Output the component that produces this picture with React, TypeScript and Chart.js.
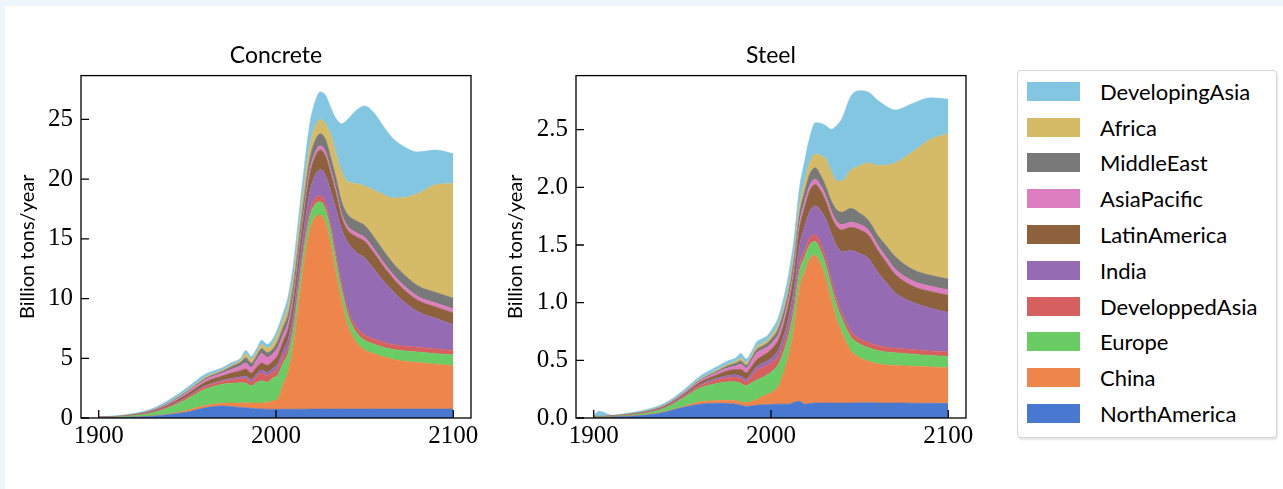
import React, { useEffect, useRef } from "react";
import { Chart, registerables } from "chart.js";

Chart.register(...registerables);

// ---------- data ----------
const YEARS = [
  1900, 1903, 1910, 1920, 1930, 1940, 1950, 1960, 1970, 1975,
  1980, 1983, 1986, 1989, 1992, 1995, 1998, 2001, 2004, 2007,
  2010, 2013, 2016, 2019, 2022, 2025, 2028, 2031, 2034, 2037,
  2040, 2045, 2050, 2055, 2060, 2065, 2070, 2080, 2090, 2100,
];

const REGIONS = [
  "NorthAmerica", "China", "Europe", "DeveloppedAsia", "India",
  "LatinAmerica", "AsiaPacific", "MiddleEast", "Africa", "DevelopingAsia",
];
const COLORS = [
  "#4878d0", "#ee854a", "#6acc64", "#d65f5f", "#956cb4",
  "#8c613c", "#dc7ec0", "#797979", "#d5bb67", "#82c6e2",
];

const X_TICKS = [1900, 2000, 2100];
const CONCRETE_Y_TICKS = [0, 5, 10, 15, 20, 25];
const STEEL_Y_TICKS = [0, 0.5, 1.0, 1.5, 2.0, 2.5];

// Concrete (billion tons / year)
const C_NORTH_AMERICA = [
  0.02, 0.03, 0.04, 0.08, 0.15, 0.3, 0.5, 0.85, 1.0, 0.95,
  0.88, 0.85, 0.8, 0.78, 0.76, 0.74, 0.73, 0.73, 0.73, 0.73,
  0.74, 0.74, 0.74, 0.75, 0.75, 0.75, 0.75, 0.75, 0.75, 0.75,
  0.75, 0.75, 0.75, 0.75, 0.75, 0.75, 0.75, 0.75, 0.75, 0.75,
];
const C_CHINA = [
  0, 0, 0, 0.01, 0.02, 0.05, 0.15, 0.2, 0.23, 0.3,
  0.38, 0.42, 0.45, 0.48, 0.5, 0.55, 0.7, 0.87, 2.05, 3.25,
  5.55, 9.05, 12.45, 14.95, 16.05, 16.25, 15.55, 13.75, 11.25, 9.05,
  7.25, 5.65, 4.95, 4.65, 4.4, 4.2, 4.05, 3.9, 3.75, 3.65,
];
const C_EUROPE = [
  0.03, 0.035, 0.05, 0.12, 0.25, 0.55, 0.95, 1.35, 1.6, 1.65,
  1.7, 1.65, 1.45, 1.7, 1.85, 1.7, 1.9, 2.0, 1.8, 1.5,
  1.3, 1.2, 1.1, 1.1, 1.1, 1.1, 1.1, 1.05, 1.0, 0.95,
  0.9, 0.85, 0.8, 0.8, 0.8, 0.82, 0.85, 0.88, 0.89, 0.89,
];
const C_DEVELOPPED_ASIA = [
  0.005, 0.005, 0.01, 0.02, 0.05, 0.1, 0.15, 0.22, 0.25, 0.3,
  0.35, 0.4, 0.3, 0.5, 0.65, 0.55, 0.5, 0.55, 0.55, 0.5,
  0.5, 0.5, 0.5, 0.5, 0.5, 0.5, 0.5, 0.5, 0.5, 0.5,
  0.45, 0.45, 0.45, 0.42, 0.42, 0.4, 0.4, 0.4, 0.38, 0.37,
];
const C_INDIA = [
  0, 0, 0, 0.01, 0.02, 0.03, 0.05, 0.07, 0.1, 0.12,
  0.15, 0.18, 0.2, 0.22, 0.25, 0.28, 0.3, 0.4, 0.5, 0.7,
  0.9, 1.1, 1.3, 1.6, 1.9, 2.2, 2.4, 2.85, 3.9, 4.55,
  5.45, 6.2, 6.45, 5.9, 5.2, 4.6, 3.95, 2.97, 2.58, 2.14,
];
const C_LATIN_AMERICA = [
  0.01, 0.012, 0.015, 0.03, 0.07, 0.12, 0.2, 0.3, 0.35, 0.45,
  0.5, 0.6, 0.55, 0.55, 0.6, 0.6, 0.6, 0.7, 0.75, 0.85,
  1.0, 1.1, 1.2, 1.4, 1.55, 1.65, 1.6, 1.5, 1.3, 1.0,
  1.0, 1.3, 1.4, 1.35, 1.25, 1.1, 1.05, 0.95, 0.95, 1.0,
];
const C_ASIA_PACIFIC = [
  0.01, 0.01, 0.01, 0.02, 0.05, 0.1, 0.15, 0.2, 0.25, 0.3,
  0.4, 0.5, 0.45, 0.6, 0.8, 0.65, 0.6, 0.65, 0.6, 0.55,
  0.5, 0.45, 0.4, 0.4, 0.35, 0.35, 0.35, 0.33, 0.33, 0.33,
  0.33, 0.33, 0.33, 0.33, 0.33, 0.33, 0.33, 0.33, 0.33, 0.33,
];
const C_MIDDLE_EAST = [
  0.005, 0.005, 0.005, 0.01, 0.02, 0.05, 0.08, 0.12, 0.15, 0.25,
  0.3, 0.45, 0.4, 0.35, 0.4, 0.4, 0.4, 0.55, 0.6, 0.7,
  0.8, 0.85, 0.9, 0.95, 1.0, 1.0, 1.05, 1.0, 1.0, 1.0,
  1.0, 1.0, 1.0, 1.0, 1.0, 0.95, 0.95, 0.9, 0.9, 0.9,
];
const C_AFRICA = [
  0.005, 0.005, 0.005, 0.01, 0.02, 0.05, 0.08, 0.1, 0.1, 0.12,
  0.15, 0.3, 0.3, 0.3, 0.35, 0.4, 0.45, 0.55, 0.6, 0.7,
  0.8, 0.9, 1.0, 1.1, 1.15, 1.2, 1.3, 1.9, 2.0, 2.5,
  2.7, 3.1, 3.3, 3.9, 4.6, 5.3, 6.1, 7.7, 9.0, 9.6,
];
const C_DEVELOPING_ASIA = [
  0.03, 0.035, 0.05, 0.08, 0.12, 0.2, 0.25, 0.25, 0.2, 0.2,
  0.2, 0.3, 0.25, 0.3, 0.35, 0.3, 0.4, 0.5, 0.6, 0.8,
  1.0, 1.2, 1.5, 1.8, 2.1, 2.3, 2.4, 2.3, 3.0, 4.0,
  5.1, 6.1, 6.7, 6.5, 5.8, 5.1, 4.5, 3.5, 2.9, 2.5,
];

// Steel (billion tons / year)
const S_NORTH_AMERICA = [
  0.005, 0.005, 0.008, 0.015, 0.025, 0.05, 0.09, 0.12, 0.127, 0.125,
  0.12, 0.11, 0.1, 0.105, 0.11, 0.115, 0.115, 0.12, 0.12, 0.12,
  0.12, 0.135, 0.145, 0.12, 0.125, 0.13, 0.13, 0.13, 0.13, 0.13,
  0.13, 0.13, 0.132, 0.132, 0.13, 0.13, 0.13, 0.128, 0.127, 0.125,
];
const S_CHINA = [
  0.002, 0.002, 0.002, 0.003, 0.004, 0.005, 0.008, 0.02, 0.025, 0.028,
  0.03, 0.03, 0.03, 0.04, 0.05, 0.07, 0.09, 0.11, 0.15, 0.27,
  0.43, 0.65, 0.98, 1.15, 1.26, 1.28, 1.2, 1.07, 0.89, 0.73,
  0.61, 0.455, 0.39, 0.36, 0.34, 0.33, 0.325, 0.32, 0.315, 0.31,
];
const S_EUROPE = [
  0.003, 0.003, 0.005, 0.008, 0.015, 0.03, 0.07, 0.12, 0.15, 0.16,
  0.165, 0.16, 0.15, 0.16, 0.17, 0.165, 0.17, 0.18, 0.19, 0.18,
  0.17, 0.155, 0.14, 0.13, 0.12, 0.12, 0.12, 0.12, 0.12, 0.12,
  0.12, 0.12, 0.12, 0.118, 0.115, 0.112, 0.11, 0.105, 0.1, 0.1,
];
const S_DEVELOPPED_ASIA = [
  0.001, 0.001, 0.001, 0.002, 0.003, 0.005, 0.01, 0.02, 0.03, 0.035,
  0.04, 0.04, 0.035, 0.06, 0.085, 0.09, 0.085, 0.08, 0.075, 0.07,
  0.07, 0.065, 0.06, 0.06, 0.06, 0.06, 0.06, 0.06, 0.058, 0.055,
  0.05, 0.048, 0.045, 0.044, 0.043, 0.042, 0.041, 0.04, 0.04, 0.04,
];
const S_INDIA = [
  0, 0, 0, 0.001, 0.002, 0.003, 0.005, 0.01, 0.015, 0.018,
  0.02, 0.02, 0.022, 0.025, 0.03, 0.032, 0.035, 0.04, 0.05, 0.065,
  0.09, 0.12, 0.16, 0.2, 0.23, 0.25, 0.29, 0.34, 0.4, 0.46,
  0.53, 0.7, 0.74, 0.73, 0.64, 0.56, 0.48, 0.41, 0.37, 0.34,
];
const S_LATIN_AMERICA = [
  0.001, 0.001, 0.001, 0.002, 0.005, 0.008, 0.012, 0.02, 0.03, 0.04,
  0.045, 0.06, 0.055, 0.055, 0.06, 0.065, 0.07, 0.08, 0.085, 0.095,
  0.11, 0.13, 0.15, 0.165, 0.18, 0.185, 0.17, 0.155, 0.15, 0.165,
  0.19, 0.2, 0.205, 0.2, 0.19, 0.175, 0.16, 0.14, 0.145, 0.15,
];
const S_ASIA_PACIFIC = [
  0.001, 0.001, 0.001, 0.002, 0.003, 0.005, 0.008, 0.012, 0.02, 0.025,
  0.03, 0.045, 0.04, 0.05, 0.06, 0.055, 0.05, 0.05, 0.05, 0.05,
  0.05, 0.05, 0.05, 0.048, 0.045, 0.045, 0.045, 0.045, 0.045, 0.045,
  0.045, 0.045, 0.045, 0.045, 0.045, 0.045, 0.045, 0.045, 0.045, 0.045,
];
const S_MIDDLE_EAST = [
  0.001, 0.001, 0.001, 0.001, 0.002, 0.003, 0.005, 0.008, 0.012, 0.018,
  0.025, 0.03, 0.025, 0.025, 0.03, 0.03, 0.035, 0.04, 0.05, 0.06,
  0.06, 0.07, 0.08, 0.09, 0.1, 0.1, 0.09, 0.085, 0.09, 0.1,
  0.11, 0.12, 0.1, 0.085, 0.085, 0.1, 0.11, 0.1, 0.095, 0.095,
];
const S_AFRICA = [
  0.001, 0.001, 0.001, 0.002, 0.003, 0.004, 0.005, 0.008, 0.01, 0.012,
  0.015, 0.025, 0.02, 0.02, 0.025, 0.025, 0.025, 0.03, 0.035, 0.04,
  0.05, 0.06, 0.07, 0.085, 0.1, 0.12, 0.17, 0.24, 0.25, 0.25,
  0.27, 0.33, 0.41, 0.5, 0.6, 0.7, 0.81, 1.02, 1.18, 1.26,
];
const S_DEVELOPING_ASIA = [
  0.005, 0.045, 0.005, 0.008, 0.012, 0.015, 0.02, 0.025, 0.03, 0.03,
  0.03, 0.04, 0.035, 0.035, 0.04, 0.04, 0.04, 0.05, 0.06, 0.08,
  0.1, 0.12, 0.15, 0.18, 0.22, 0.27, 0.28, 0.29, 0.37, 0.48,
  0.54, 0.64, 0.65, 0.61, 0.57, 0.51, 0.46, 0.42, 0.36, 0.3,
];

const CONCRETE_SERIES = [
  C_NORTH_AMERICA, C_CHINA, C_EUROPE, C_DEVELOPPED_ASIA, C_INDIA,
  C_LATIN_AMERICA, C_ASIA_PACIFIC, C_MIDDLE_EAST, C_AFRICA, C_DEVELOPING_ASIA,
];
const STEEL_SERIES = [
  S_NORTH_AMERICA, S_CHINA, S_EUROPE, S_DEVELOPPED_ASIA, S_INDIA,
  S_LATIN_AMERICA, S_ASIA_PACIFIC, S_MIDDLE_EAST, S_AFRICA, S_DEVELOPING_ASIA,
];

// ---------- chart helpers ----------
const frameAndTicks = {
  id: "frameAndTicks",
  afterDatasetsDraw(chart: any) {
    const { ctx, chartArea: a, scales } = chart;
    ctx.save();
    ctx.strokeStyle = "#000";
    ctx.lineWidth = 1.3;
    ctx.beginPath();
    for (const t of scales.x.ticks) {
      const px = scales.x.getPixelForValue(t.value);
      ctx.moveTo(px, a.bottom);
      ctx.lineTo(px, a.bottom - 8);
    }
    for (const t of scales.y.ticks) {
      const py = scales.y.getPixelForValue(t.value);
      ctx.moveTo(a.left, py);
      ctx.lineTo(a.left + 8, py);
    }
    ctx.stroke();
    ctx.strokeRect(a.left, a.top, a.right - a.left, a.bottom - a.top);
    ctx.restore();
  },
};

function makeConfig(
  title: string,
  series: number[][],
  yMax: number,
  yTicks: number[],
  decimals: number,
  leftWidth: number,
  rightPad: number,
  yTitlePad: number
): any {
  return {
    type: "line",
    data: {
      datasets: series.map((vals, i) => ({
        label: REGIONS[i],
        data: YEARS.map((x, j) => ({ x, y: vals[j] })),
        backgroundColor: COLORS[i],
        borderColor: COLORS[i],
        borderWidth: 0.6,
        pointRadius: 0,
        pointHoverRadius: 0,
        fill: i === 0 ? "origin" : "-1",
        cubicInterpolationMode: "monotone",
      })),
    },
    options: {
      responsive: false,
      animation: false,
      events: [],
      layout: { padding: { left: 0, right: rightPad, top: 0, bottom: 0 } },
      plugins: {
        legend: { display: false },
        tooltip: { enabled: false },
        title: {
          display: true,
          text: title,
          fullSize: false,
          color: "#000",
          font: { family: "Lato", size: 23, weight: "normal" },
          padding: { top: 42, bottom: 6 },
        },
      },
      scales: {
        x: {
          type: "linear",
          min: 1890,
          max: 2110,
          grid: { display: false, drawTicks: false },
          border: { display: false },
          afterBuildTicks: (s: any) => {
            s.ticks = X_TICKS.map((v) => ({ value: v }));
          },
          afterFit: (s: any) => {
            s.height = 71;
          },
          ticks: {
            color: "#000",
            padding: 3,
            maxRotation: 0,
            autoSkip: false,
            font: { family: "Liberation Serif", size: 25 },
            callback: (v: any) => String(v),
          },
        },
        y: {
          type: "linear",
          stacked: true,
          min: 0,
          max: yMax,
          grid: { display: false, drawTicks: false },
          border: { display: false },
          afterBuildTicks: (s: any) => {
            s.ticks = yTicks.map((v) => ({ value: v }));
          },
          afterFit: (s: any) => {
            s.width = leftWidth;
          },
          ticks: {
            color: "#000",
            padding: 8,
            autoSkip: false,
            font: { family: "Liberation Serif", size: 25 },
            callback: (v: any) => Number(v).toFixed(decimals),
          },
          title: {
            display: true,
            text: "Billion tons/year",
            color: "#000",
            font: { family: "Lato", size: 20 },
            padding: { top: yTitlePad, bottom: 0 },
          },
        },
      },
    },
    plugins: [frameAndTicks],
  };
}

const LEGEND_ORDER = [9, 8, 7, 6, 5, 4, 3, 2, 1, 0];

export default function App() {
  const concreteRef = useRef<HTMLCanvasElement>(null);
  const steelRef = useRef<HTMLCanvasElement>(null);

  useEffect(() => {
    let charts: Chart[] = [];
    let cancelled = false;
    const build = () => {
      if (cancelled) return;
      if (concreteRef.current) {
        charts.push(
          new Chart(
            concreteRef.current,
            makeConfig("Concrete", CONCRETE_SERIES, 28.67, CONCRETE_Y_TICKS, 0, 81, 19, 15.5)
          )
        );
      }
      if (steelRef.current) {
        charts.push(
          new Chart(
            steelRef.current,
            makeConfig("Steel", STEEL_SERIES, 2.969, STEEL_Y_TICKS, 1, 86, 24, 14)
          )
        );
      }
    };
    const fonts: any = (document as any).fonts;
    if (fonts && fonts.load) {
      Promise.all([
        fonts.load("23px Lato"),
        fonts.load("25px 'Liberation Serif'"),
      ])
        .catch(() => {})
        .then(build);
    } else {
      build();
    }
    return () => {
      cancelled = true;
      charts.forEach((c) => c.destroy());
      charts = [];
    };
  }, []);

  return (
    <div
      style={{
        position: "fixed",
        left: 0,
        top: 0,
        width: 1283,
        height: 489,
        background: "#eef5fb",
        overflow: "hidden",
      }}
    >
      <div
        style={{
          position: "absolute",
          left: 5,
          top: 6,
          right: 0,
          bottom: 0,
          background: "#ffffff",
        }}
      />
      <canvas
        ref={concreteRef}
        width={490}
        height={489}
        style={{ position: "absolute", left: 0, top: 0 }}
      />
      <canvas
        ref={steelRef}
        width={500}
        height={489}
        style={{ position: "absolute", left: 490, top: 0 }}
      />
      <div
        style={{
          position: "absolute",
          left: 1017,
          top: 70,
          width: 260,
          height: 368,
          boxSizing: "border-box",
          border: "1px solid #d6d6d6",
          borderRadius: 4,
          background: "#fff",
          boxShadow: "1px 2px 2px rgba(0,0,0,0.10)",
        }}
      >
        {LEGEND_ORDER.map((idx, row) => (
          <div
            key={REGIONS[idx]}
            style={{
              position: "absolute",
              left: 9,
              top: 10.7 + row * 35.8,
              height: 19,
              display: "flex",
              alignItems: "center",
              whiteSpace: "nowrap",
            }}
          >
            <div style={{ width: 53, height: 19, background: COLORS[idx] }} />
            <span
              style={{
                marginLeft: 20,
                fontFamily: "Lato",
                fontSize: 22,
                color: "#000",
                lineHeight: "19px",
              }}
            >
              {REGIONS[idx]}
            </span>
          </div>
        ))}
      </div>
    </div>
  );
}
